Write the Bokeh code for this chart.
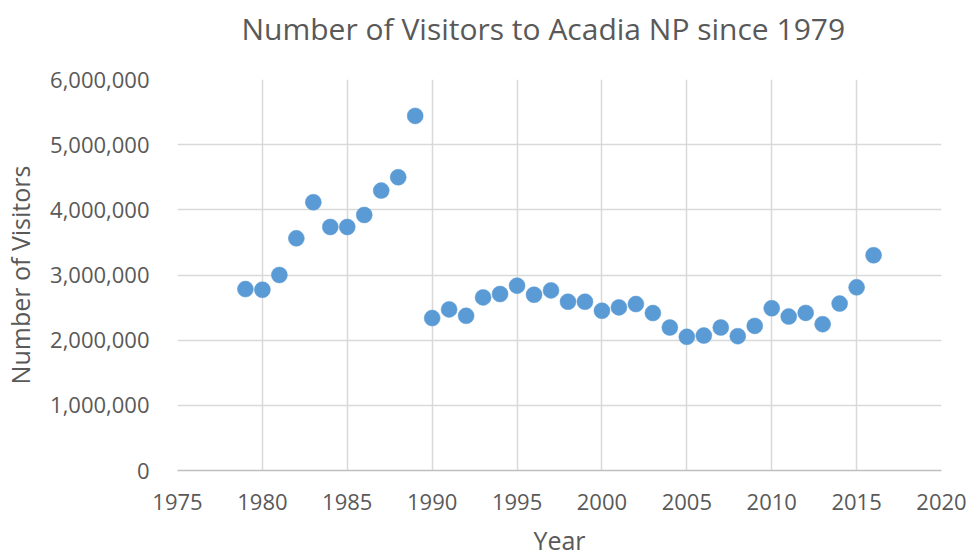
from bokeh.plotting import figure
from bokeh.models import NumeralTickFormatter, FixedTicker, Range1d
from bokeh.embed import file_html
from bokeh.resources import INLINE

years = list(range(1979, 2017))
visitors = [2784000, 2774000, 3000000, 3563000, 4116000, 3737000, 3737000,
            3921000, 4295000, 4500000, 5441000, 2339000, 2472000, 2374000,
            2656000, 2708000, 2836000, 2697000, 2764000, 2590000, 2590000,
            2451000, 2503000, 2554000, 2416000, 2194000, 2051000, 2071000,
            2194000, 2061000, 2219000, 2490000, 2362000, 2418000, 2245000,
            2561000, 2811000, 3303000]
x_ticks = list(range(1975, 2021, 5))
y_ticks = list(range(0, 6000001, 1000000))
title_text = "Number of Visitors to Acadia NP since 1979"

FONT = "Open Sans"
GREY = "#595959"

p = figure(frame_width=764, frame_height=391,
           min_border_left=177, min_border_right=30,
           min_border_top=79, min_border_bottom=86,
           x_range=Range1d(1975, 2020), y_range=Range1d(0, 6000000),
           output_backend="svg", toolbar_location=None)

p.scatter(years, visitors, size=16, fill_color="#5B9BD5",
          line_color="#5B9BD5", line_width=0.5)

# trailing blank line lifts the title higher in its panel
p.title.text = title_text + "\n "
p.title.text_font = FONT
p.title.text_font_size = "30px"
p.title.text_font_style = "normal"
p.title.text_color = GREY
p.title.text_line_height = 0.75
p.title.align = "left"
p.title.offset = 64
p.title.standoff = 0

p.xaxis.ticker = FixedTicker(ticks=x_ticks)
p.yaxis.ticker = FixedTicker(ticks=y_ticks)
p.yaxis.formatter = NumeralTickFormatter(format="0,0")
p.xaxis.axis_label = "Year"
p.yaxis.axis_label = "Number of Visitors"

for ax in (p.xaxis, p.yaxis):
    ax.major_label_text_font = FONT
    ax.major_label_text_font_size = "22px"
    ax.major_label_text_color = GREY
    ax.axis_label_text_font = FONT
    ax.axis_label_text_font_size = "25px"
    ax.axis_label_text_font_style = "normal"
    ax.axis_label_text_color = GREY
    ax.major_tick_line_color = None
    ax.minor_tick_line_color = None

p.xaxis.axis_line_color = "#BFBFBF"
p.xaxis.axis_line_width = 1.5
p.yaxis.axis_line_color = None
p.xaxis.major_label_standoff = 17
p.xaxis.axis_label_standoff = 10
p.yaxis.major_label_standoff = 22
p.yaxis.axis_label_standoff = 10

for g in (p.xgrid, p.ygrid):
    g.grid_line_color = "#D9D9D9"
    g.grid_line_width = 1.5
p.outline_line_color = None

open("out.html", "w").write(file_html(p, INLINE))
